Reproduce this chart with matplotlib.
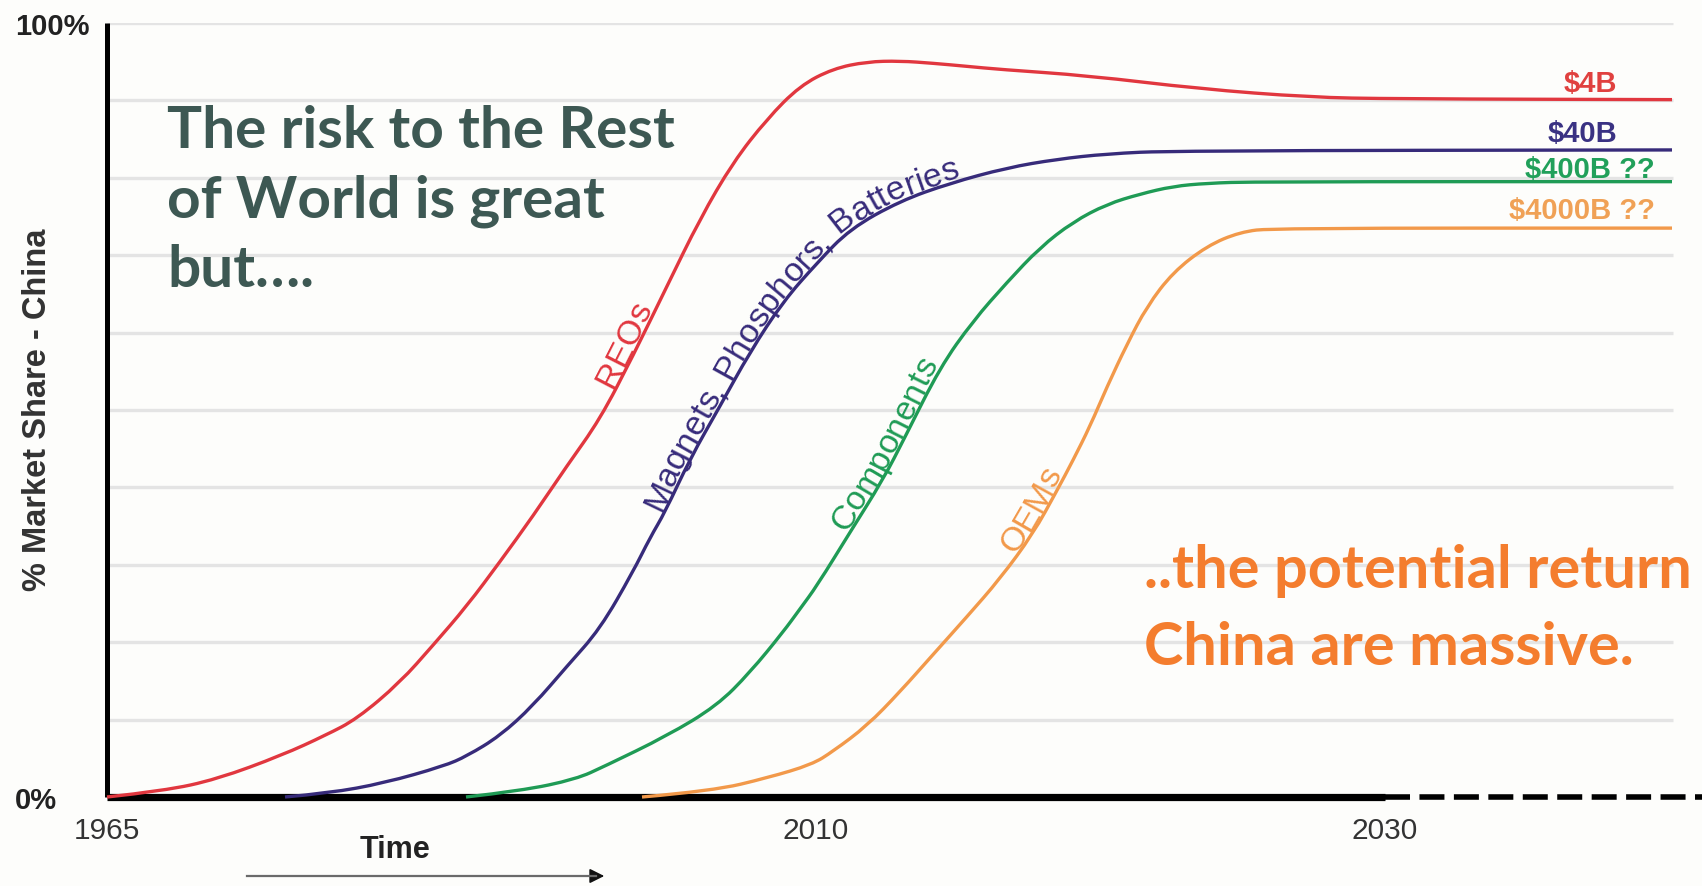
import numpy as np
import matplotlib
matplotlib.use("Agg")
import matplotlib.pyplot as plt
from matplotlib.font_manager import FontProperties
from matplotlib.path import Path
from matplotlib.patches import PathPatch
import matplotlib.font_manager as fm

# ---------------- data (schematic time position, % market share) ----------------
reo_x = [107, 164, 217, 282, 326, 357, 400, 433, 467, 500, 533, 567, 600, 633, 667,
         700, 733, 767, 800, 833, 867, 900, 933, 967, 1000, 1088, 1199, 1310, 1394, 1672]
reo_y = [0, 0.8, 2.3, 5.4, 8.0, 10.1, 14.8, 19.6, 24.7, 30.4, 36.3, 42.8, 48.8, 57.0, 66.0,
         74.7, 82.0, 87.6, 91.9, 94.1, 95.0, 95.1, 94.8, 94.4, 94.0, 93.2, 91.5, 90.4, 90.2, 90.1]

mag_x = [285, 329, 384, 444, 467, 500, 533, 567, 600, 633, 650, 665, 690, 720, 750, 783,
         817, 850, 900, 950, 1007, 1057, 1107, 1173, 1672]
mag_y = [0, 0.5, 1.8, 4.0, 5.3, 7.9, 11.8, 16.9, 21.7, 29.1, 33.5, 36.8, 43.7, 50.5, 57.5, 64.0,
         69.0, 73.4, 77.0, 79.3, 81.3, 82.4, 83.1, 83.5, 83.6]

cmp_x = [466, 521, 576, 605, 667, 717, 750, 783, 800, 817, 850, 883, 905, 940, 973, 1007,
         1040, 1073, 1107, 1140, 1173, 1207, 1255, 1672]
cmp_y = [0, 0.8, 2.3, 4.0, 7.9, 11.8, 16.1, 21.3, 24.3, 27.3, 34.2, 41.0, 46.5, 55.5, 61.5, 66.5,
         71.0, 74.3, 76.6, 77.9, 78.9, 79.3, 79.5, 79.5]

oem_x = [642, 713, 768, 812, 833, 867, 900, 933, 967, 1000, 1033, 1057, 1073, 1090, 1107,
         1127, 1147, 1173, 1207, 1240, 1273, 1672]
oem_y = [0, 0.8, 2.5, 4.2, 5.9, 9.2, 13.6, 18.4, 23.3, 28.2, 34.0, 39.6, 43.5, 47.9, 53.0,
         58.5, 63.4, 67.8, 71.2, 73.0, 73.5, 73.5]

series_names = ["REOs", "Magnets, Phosphors, Batteries", "Components", "OEMs"]
series_values = ["$4B", "$40B", "$400B ??", "$4000B ??"]
value_label_y = [92.2, 85.8, 81.1, 75.8]

year_pos = [107, 816, 1385]
year_labels = ["1965", "2010", "2030"]
grid_levels = [10, 20, 30, 40, 50, 60, 70, 80, 90, 100]

# ---------------- styling ----------------
W, H = 1702, 887
BG = "#fdfdfb"
C_RED, C_PUR, C_GRN, C_ORG = "#e1373f", "#372b7a", "#1f9b55", "#f2994a"
LBL_COL = ["#e0413f", "#3a3283", "#21a05a", "#f0a156"]
names = {f.name for f in fm.fontManager.ttflist}
NARROW = "Liberation Sans Narrow" if "Liberation Sans Narrow" in names else None
SANS = "Liberation Sans"
BIG = "Lato"

fig = plt.figure(figsize=(W / 100, H / 100), dpi=100, facecolor=BG)
ax = fig.add_axes([107 / W, (H - 798) / H, (W - 107) / W, (798 - 24) / H])
ax.set_facecolor(BG)
ax.set_xlim(107, 1702)
ax.set_ylim(0, 100)
renderer = fig.canvas.get_renderer()

for sp in ["top", "right", "bottom"]:
    ax.spines[sp].set_visible(False)
ax.spines["left"].set_linewidth(3.6)
ax.spines["left"].set_color("black")
ax.spines["left"].set_capstyle("butt")

# grid lines
ax.hlines(grid_levels, 107, 1673, color="#e4e4e4", lw=2.4, zorder=0)

# baseline: solid to 2030, dashed after
ax.plot([year_pos[0], year_pos[2]], [0, 0], color="black", lw=5.2,
        solid_capstyle="butt", clip_on=False, zorder=2)
ax.plot([year_pos[2], 1702], [0, 0], color="black", lw=4.0,
        dashes=(4.5, 1.7), clip_on=False, zorder=2)


# curves: smooth quadratic rendering through the read points
def smooth_path(xs, ys):
    P = np.column_stack([xs, ys]).astype(float)
    verts = [P[0]]
    codes = [Path.MOVETO]
    for i in range(1, len(P) - 1):
        mid = (P[i] + P[i + 1]) / 2
        verts += [P[i], mid]
        codes += [Path.CURVE3, Path.CURVE3]
    verts.append(P[-1])
    codes.append(Path.LINETO)
    return Path(verts, codes)


curves = [(reo_x, reo_y, C_RED), (mag_x, mag_y, C_PUR),
          (cmp_x, cmp_y, C_GRN), (oem_x, oem_y, C_ORG)]
for xs, ys, c in curves:
    patch = PathPatch(smooth_path(xs, ys), fill=False, edgecolor=c, lw=2.4,
                      clip_on=False, zorder=3, joinstyle="round", capstyle="butt")
    ax.add_patch(patch)

# ticks
ax.tick_params(length=0)
ax.set_xticks(year_pos)
if NARROW:
    ax.set_xticklabels(year_labels, fontsize=26, family=NARROW, color="#333333")
else:
    ax.set_xticklabels(year_labels, fontsize=21.5, family=SANS, color="#333333")
ax.tick_params(axis="x", pad=14)
ax.set_yticks([0, 100])
ax.set_yticklabels(["0%", "100%"], fontsize=21, family=SANS, color="#222222",
                   fontweight="bold")
ax.tick_params(axis="y", pad=66)
for t in ax.get_yticklabels():
    t.set_ha("left")

ax.set_ylabel("% Market Share - China", fontsize=23.5, family=SANS,
              fontweight="bold", color="#333333", va="center")
ax.yaxis.set_label_coords((38 - 107) / 1595, (798 - 410) / 774)
ax.set_xlabel("Time", fontsize=22, family=SANS, fontweight="bold",
              color="#222222", va="center")
ax.xaxis.set_label_coords((395 - 107) / 1595, (798 - 850) / 774)


# time arrow (figure pixel coordinates)
def fx(px):
    return px / W


def fy(py):
    return 1 - py / H


fig.add_artist(plt.Line2D([fx(247), fx(596)], [fy(877), fy(877)], color="#6a6a6a", lw=1.6))
ax.annotate("", xy=(fx(607), fy(877)), xytext=(fx(590), fy(877)),
            xycoords="figure fraction", textcoords="figure fraction",
            arrowprops=dict(arrowstyle="-|>", color="#111111", lw=1.2, mutation_scale=22))

# value labels at right
right_edges = [1617, 1617, 1655, 1655]
for txt, yv, xr, col in zip(series_values, value_label_y, right_edges, LBL_COL):
    ax.text(xr, yv, txt, ha="right", va="center", fontsize=21, family=SANS,
            fontweight="bold", color=col, zorder=4)


# labels along curves
def text_along(xs, ys, label, x_start, color, size, offset=3.0):
    fp = FontProperties(family=SANS, size=size)
    pts = ax.transData.transform(np.column_stack([xs, ys]))
    d = np.hypot(np.diff(pts[:, 0]), np.diff(pts[:, 1]))
    s = np.concatenate([[0.0], np.cumsum(d)])
    p0 = ax.transData.transform((x_start, np.interp(x_start, xs, ys)))
    s0 = np.interp(p0[0], pts[:, 0], s)

    def w(t):
        return renderer.get_text_width_height_descent(t, fp, ismath=False)[0]

    wx = w("x")
    inv = ax.transData.inverted()
    for i, ch in enumerate(label):
        if ch == " ":
            continue
        a = (w(label[:i] + "x") - wx) if i else 0.0
        b = w(label[:i + 1] + "x") - wx
        sc = s0 + 0.5 * (a + b)
        hh = 16
        xa, ya = np.interp(sc - hh, s, pts[:, 0]), np.interp(sc - hh, s, pts[:, 1])
        xb, yb = np.interp(sc + hh, s, pts[:, 0]), np.interp(sc + hh, s, pts[:, 1])
        ang = np.arctan2(yb - ya, xb - xa)
        px, py = np.interp(sc, s, pts[:, 0]), np.interp(sc, s, pts[:, 1])
        nx, ny = -np.sin(ang), np.cos(ang)
        X, Y = inv.transform((px + nx * offset, py + ny * offset))
        ax.text(X, Y, ch, rotation=np.degrees(ang), rotation_mode="anchor",
                ha="center", va="baseline", color=color, fontproperties=fp,
                zorder=5)


label_starts = [615, 664, 849, 1017]
for (xs, ys, c), name, xs0 in zip(curves, series_names, label_starts):
    text_along(xs, ys, name, xs0, c, 24.5, offset=3.5)


# big annotation texts
def fit_size(text, family, target_px, base=40.0):
    fp = FontProperties(family=family, weight="bold", size=base)
    wpx = renderer.get_text_width_height_descent(text, fp, ismath=False)[0]
    return base * target_px / wpx


dark = "#3d5853"
fs_dark = fit_size("The risk to the Rest", BIG, 507)
for line, by in zip(["The risk to the Rest", "of World is great", "but\u2026."],
                    [148, 218, 287]):
    fig.text(fx(167), fy(by), line, fontsize=fs_dark, family=BIG,
             fontweight="bold", color=dark, va="baseline", ha="left")

orange = "#f47d2e"
fs_or = fit_size("China are massive.", BIG, 489)
for line, by in zip(["..the potential return", "China are massive."], [588, 665]):
    fig.text(fx(1144), fy(by), line, fontsize=fs_or, family=BIG,
             fontweight="bold", color=orange, va="baseline", ha="left")

fig.savefig("out.png", dpi=100, facecolor=BG)
